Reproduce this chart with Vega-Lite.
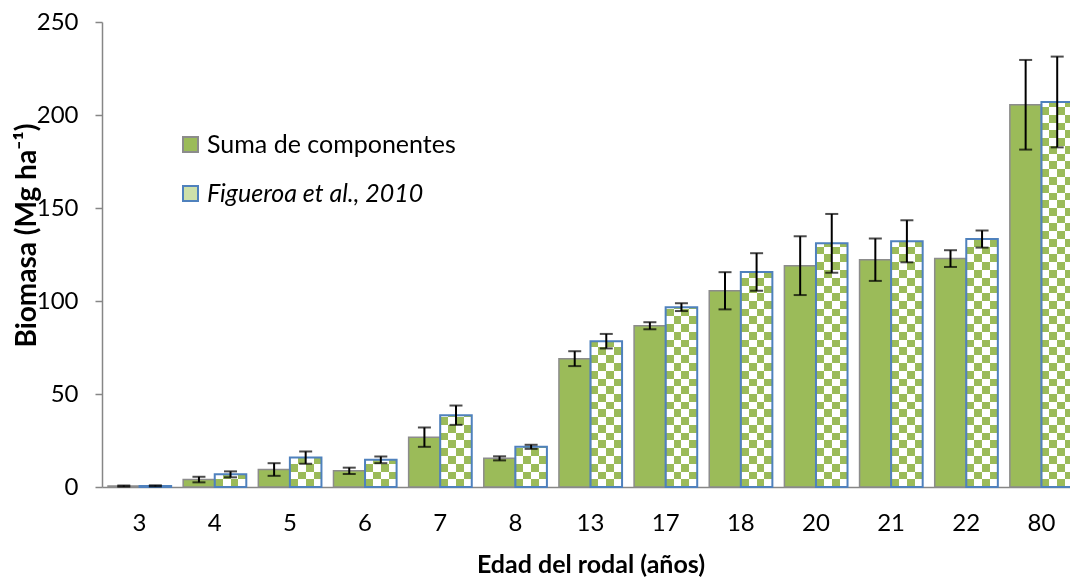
{
  "$schema": "https://vega.github.io/schema/vega-lite/v6.json",
  "width": 977,
  "height": 465,
  "autosize": {"type": "none"},
  "padding": {"left": 102, "top": 22, "right": 0, "bottom": 90},
  "background": "white",
  "config": {"font": "Lato", "view": {"stroke": null}, "axis": {"zindex": 1}},
  "data": {"values": [
    {"age": 3, "series": "Suma de componentes", "value": 0.5, "lo": 0.2, "hi": 0.8},
    {"age": 3, "series": "Figueroa et al., 2010", "value": 0.6, "lo": 0.3, "hi": 0.9},
    {"age": 4, "series": "Suma de componentes", "value": 4.0, "lo": 2.5, "hi": 5.5},
    {"age": 4, "series": "Figueroa et al., 2010", "value": 6.8, "lo": 5.2, "hi": 8.4},
    {"age": 5, "series": "Suma de componentes", "value": 9.4, "lo": 6.0, "hi": 12.8},
    {"age": 5, "series": "Figueroa et al., 2010", "value": 15.8, "lo": 12.5, "hi": 19.1},
    {"age": 6, "series": "Suma de componentes", "value": 8.7, "lo": 7.0, "hi": 10.4},
    {"age": 6, "series": "Figueroa et al., 2010", "value": 14.6, "lo": 12.8, "hi": 16.4},
    {"age": 7, "series": "Suma de componentes", "value": 26.8, "lo": 21.6, "hi": 32.0},
    {"age": 7, "series": "Figueroa et al., 2010", "value": 38.6, "lo": 33.4, "hi": 43.8},
    {"age": 8, "series": "Suma de componentes", "value": 15.4, "lo": 14.3, "hi": 16.5},
    {"age": 8, "series": "Figueroa et al., 2010", "value": 21.6, "lo": 20.5, "hi": 22.7},
    {"age": 13, "series": "Suma de componentes", "value": 69.0, "lo": 65.0, "hi": 73.0},
    {"age": 13, "series": "Figueroa et al., 2010", "value": 78.4, "lo": 74.5, "hi": 82.3},
    {"age": 17, "series": "Suma de componentes", "value": 86.7, "lo": 84.8, "hi": 88.6},
    {"age": 17, "series": "Figueroa et al., 2010", "value": 96.7, "lo": 94.6, "hi": 98.8},
    {"age": 18, "series": "Suma de componentes", "value": 105.5, "lo": 95.5, "hi": 115.5},
    {"age": 18, "series": "Figueroa et al., 2010", "value": 115.6, "lo": 105.5, "hi": 125.7},
    {"age": 20, "series": "Suma de componentes", "value": 119.0, "lo": 103.2, "hi": 134.8},
    {"age": 20, "series": "Figueroa et al., 2010", "value": 131.0, "lo": 115.2, "hi": 146.8},
    {"age": 21, "series": "Suma de componentes", "value": 122.2, "lo": 110.8, "hi": 133.6},
    {"age": 21, "series": "Figueroa et al., 2010", "value": 132.1, "lo": 120.8, "hi": 143.4},
    {"age": 22, "series": "Suma de componentes", "value": 122.8, "lo": 118.3, "hi": 127.3},
    {"age": 22, "series": "Figueroa et al., 2010", "value": 133.3, "lo": 128.7, "hi": 137.9},
    {"age": 80, "series": "Suma de componentes", "value": 205.5, "lo": 181.4, "hi": 229.6},
    {"age": 80, "series": "Figueroa et al., 2010", "value": 207.0, "lo": 182.6, "hi": 231.4}
  ]},
  "encoding": {
    "x": {
      "field": "age", "type": "ordinal",
      "scale": {"paddingInner": 0.16, "paddingOuter": 0.08},
      "axis": {
        "title": "Edad del rodal (años)", "labelAngle": 0, "ticks": false,
        "labelFontSize": 24, "labelPadding": 24, "labelColor": "#000000",
        "domainColor": "#868686", "domainWidth": 1.5,
        "titleFontSize": 25, "titleFontWeight": "bold", "titleColor": "#000000",
        "titleY": 85, "titleBaseline": "alphabetic"
      }
    },
    "xOffset": {"field": "series", "type": "nominal", "sort": ["Suma de componentes", "Figueroa et al., 2010"]}
  },
  "layer": [
    {
      "transform": [{"filter": "datum.series === 'Figueroa et al., 2010'"}],
      "mark": {"type": "bar", "fill": "black"},
      "encoding": {
        "y": {
          "field": "value", "type": "quantitative",
          "scale": {"domain": [0, 250], "nice": false},
          "axis": {
            "title": "Biomasa (Mg ha⁻¹)", "values": [0, 50, 100, 150, 200, 250], "grid": false,
            "tickSize": 7, "tickColor": "#868686", "tickWidth": 1.5,
            "domainColor": "#868686", "domainWidth": 1.5,
            "labelFontSize": 24, "labelPadding": 17, "labelColor": "#000000",
            "titleFontSize": 28, "titleFontWeight": "bold", "titleColor": "#000000",
            "titleX": -67, "titleY": 213, "titleAngle": -90, "titleAlign": "center", "titleBaseline": "alphabetic"
          }
        }
      }
    },
    {
      "transform": [{"filter": "datum.series === 'Figueroa et al., 2010'"}],
      "mark": {
        "type": "bar", "blend": "lighten",
        "fill": {"gradient": "linear", "x1": 0, "y1": 0, "x2": 0, "y2": 1, "stops": [
          {"offset":0,"color":"black"},{"offset":0.0167,"color":"black"},
          {"offset":0.0167,"color":"white"},{"offset":0.0333,"color":"white"},
          {"offset":0.0333,"color":"black"},{"offset":0.05,"color":"black"},
          {"offset":0.05,"color":"white"},{"offset":0.0667,"color":"white"},
          {"offset":0.0667,"color":"black"},{"offset":0.0833,"color":"black"},
          {"offset":0.0833,"color":"white"},{"offset":0.1,"color":"white"},
          {"offset":0.1,"color":"black"},{"offset":0.1167,"color":"black"},
          {"offset":0.1167,"color":"white"},{"offset":0.1333,"color":"white"},
          {"offset":0.1333,"color":"black"},{"offset":0.15,"color":"black"},
          {"offset":0.15,"color":"white"},{"offset":0.1667,"color":"white"},
          {"offset":0.1667,"color":"black"},{"offset":0.1833,"color":"black"},
          {"offset":0.1833,"color":"white"},{"offset":0.2,"color":"white"},
          {"offset":0.2,"color":"black"},{"offset":0.2167,"color":"black"},
          {"offset":0.2167,"color":"white"},{"offset":0.2333,"color":"white"},
          {"offset":0.2333,"color":"black"},{"offset":0.25,"color":"black"},
          {"offset":0.25,"color":"white"},{"offset":0.2667,"color":"white"},
          {"offset":0.2667,"color":"black"},{"offset":0.2833,"color":"black"},
          {"offset":0.2833,"color":"white"},{"offset":0.3,"color":"white"},
          {"offset":0.3,"color":"black"},{"offset":0.3167,"color":"black"},
          {"offset":0.3167,"color":"white"},{"offset":0.3333,"color":"white"},
          {"offset":0.3333,"color":"black"},{"offset":0.35,"color":"black"},
          {"offset":0.35,"color":"white"},{"offset":0.3667,"color":"white"},
          {"offset":0.3667,"color":"black"},{"offset":0.3833,"color":"black"},
          {"offset":0.3833,"color":"white"},{"offset":0.4,"color":"white"},
          {"offset":0.4,"color":"black"},{"offset":0.4167,"color":"black"},
          {"offset":0.4167,"color":"white"},{"offset":0.4333,"color":"white"},
          {"offset":0.4333,"color":"black"},{"offset":0.45,"color":"black"},
          {"offset":0.45,"color":"white"},{"offset":0.4667,"color":"white"},
          {"offset":0.4667,"color":"black"},{"offset":0.4833,"color":"black"},
          {"offset":0.4833,"color":"white"},{"offset":0.5,"color":"white"},
          {"offset":0.5,"color":"black"},{"offset":0.5167,"color":"black"},
          {"offset":0.5167,"color":"white"},{"offset":0.5333,"color":"white"},
          {"offset":0.5333,"color":"black"},{"offset":0.55,"color":"black"},
          {"offset":0.55,"color":"white"},{"offset":0.5667,"color":"white"},
          {"offset":0.5667,"color":"black"},{"offset":0.5833,"color":"black"},
          {"offset":0.5833,"color":"white"},{"offset":0.6,"color":"white"},
          {"offset":0.6,"color":"black"},{"offset":0.6167,"color":"black"},
          {"offset":0.6167,"color":"white"},{"offset":0.6333,"color":"white"},
          {"offset":0.6333,"color":"black"},{"offset":0.65,"color":"black"},
          {"offset":0.65,"color":"white"},{"offset":0.6667,"color":"white"},
          {"offset":0.6667,"color":"black"},{"offset":0.6833,"color":"black"},
          {"offset":0.6833,"color":"white"},{"offset":0.7,"color":"white"},
          {"offset":0.7,"color":"black"},{"offset":0.7167,"color":"black"},
          {"offset":0.7167,"color":"white"},{"offset":0.7333,"color":"white"},
          {"offset":0.7333,"color":"black"},{"offset":0.75,"color":"black"},
          {"offset":0.75,"color":"white"},{"offset":0.7667,"color":"white"},
          {"offset":0.7667,"color":"black"},{"offset":0.7833,"color":"black"},
          {"offset":0.7833,"color":"white"},{"offset":0.8,"color":"white"},
          {"offset":0.8,"color":"black"},{"offset":0.8167,"color":"black"},
          {"offset":0.8167,"color":"white"},{"offset":0.8333,"color":"white"},
          {"offset":0.8333,"color":"black"},{"offset":0.85,"color":"black"},
          {"offset":0.85,"color":"white"},{"offset":0.8667,"color":"white"},
          {"offset":0.8667,"color":"black"},{"offset":0.8833,"color":"black"},
          {"offset":0.8833,"color":"white"},{"offset":0.9,"color":"white"},
          {"offset":0.9,"color":"black"},{"offset":0.9167,"color":"black"},
          {"offset":0.9167,"color":"white"},{"offset":0.9333,"color":"white"},
          {"offset":0.9333,"color":"black"},{"offset":0.95,"color":"black"},
          {"offset":0.95,"color":"white"},{"offset":0.9667,"color":"white"},
          {"offset":0.9667,"color":"black"},{"offset":0.9833,"color":"black"},
          {"offset":0.9833,"color":"white"},{"offset":1,"color":"white"}
        ]}
      },
      "encoding": {
        "y": {"datum": 250, "type": "quantitative"},
        "y2": {"datum": 0}
      }
    },
    {
      "transform": [{"filter": "datum.series === 'Figueroa et al., 2010'"}],
      "mark": {
        "type": "bar", "blend": "difference",
        "fill": {"gradient": "linear", "x1": 0, "y1": 0, "x2": 1, "y2": 0, "stops": [
          {"offset": 0, "color": "white"}, {"offset": 0.25, "color": "white"},
          {"offset": 0.25, "color": "black"}, {"offset": 0.5, "color": "black"},
          {"offset": 0.5, "color": "white"}, {"offset": 0.75, "color": "white"},
          {"offset": 0.75, "color": "black"}, {"offset": 1, "color": "black"}
        ]}
      },
      "encoding": {"y": {"field": "value", "type": "quantitative"}}
    },
    {
      "transform": [{"filter": "datum.series === 'Figueroa et al., 2010'"}],
      "mark": {"type": "bar", "blend": "lighten", "fill": "#9bbb59"},
      "encoding": {"y": {"field": "value", "type": "quantitative"}}
    },
    {
      "transform": [{"filter": "datum.series === 'Suma de componentes'"}],
      "mark": {"type": "bar", "stroke": "#8c8c8c", "strokeWidth": 1.5},
      "encoding": {
        "y": {"field": "value", "type": "quantitative"},
        "fill": {
          "field": "series", "type": "nominal",
          "scale": {"domain": ["Suma de componentes", "Figueroa et al., 2010"], "range": ["#9bbb59", "#cde0aa"]},
          "legend": {
            "title": null, "orient": "none", "legendX": 76, "legendY": 110,
            "labelFontSize": 25, "labelColor": "#000000", "labelLimit": 500, "symbolType": "square",
            "symbolSize": 225, "symbolStrokeWidth": 2, "symbolOpacity": 1,
            "rowPadding": 23, "labelOffset": 4,
            "labelFontStyle": {"expr": "datum.value === 'Figueroa et al., 2010' ? 'italic' : 'normal'"},
            "symbolStrokeColor": {"expr": "datum.value === 'Figueroa et al., 2010' ? '#4f81bd' : '#8c8c8c'"}
          }
        }
      }
    },
    {
      "transform": [{"filter": "datum.series === 'Figueroa et al., 2010'"}],
      "mark": {"type": "bar", "filled": false, "stroke": "#4f81bd", "strokeWidth": 2},
      "encoding": {"y": {"field": "value", "type": "quantitative"}}
    },
    {
      "mark": {"type": "rule", "color": "black", "strokeWidth": 2},
      "encoding": {
        "y": {"field": "lo", "type": "quantitative"},
        "y2": {"field": "hi"}
      }
    },
    {
      "mark": {"type": "tick", "color": "black", "thickness": 2, "size": 13},
      "encoding": {"y": {"field": "lo", "type": "quantitative"}}
    },
    {
      "mark": {"type": "tick", "color": "black", "thickness": 2, "size": 13},
      "encoding": {"y": {"field": "hi", "type": "quantitative"}}
    }
  ]
}
